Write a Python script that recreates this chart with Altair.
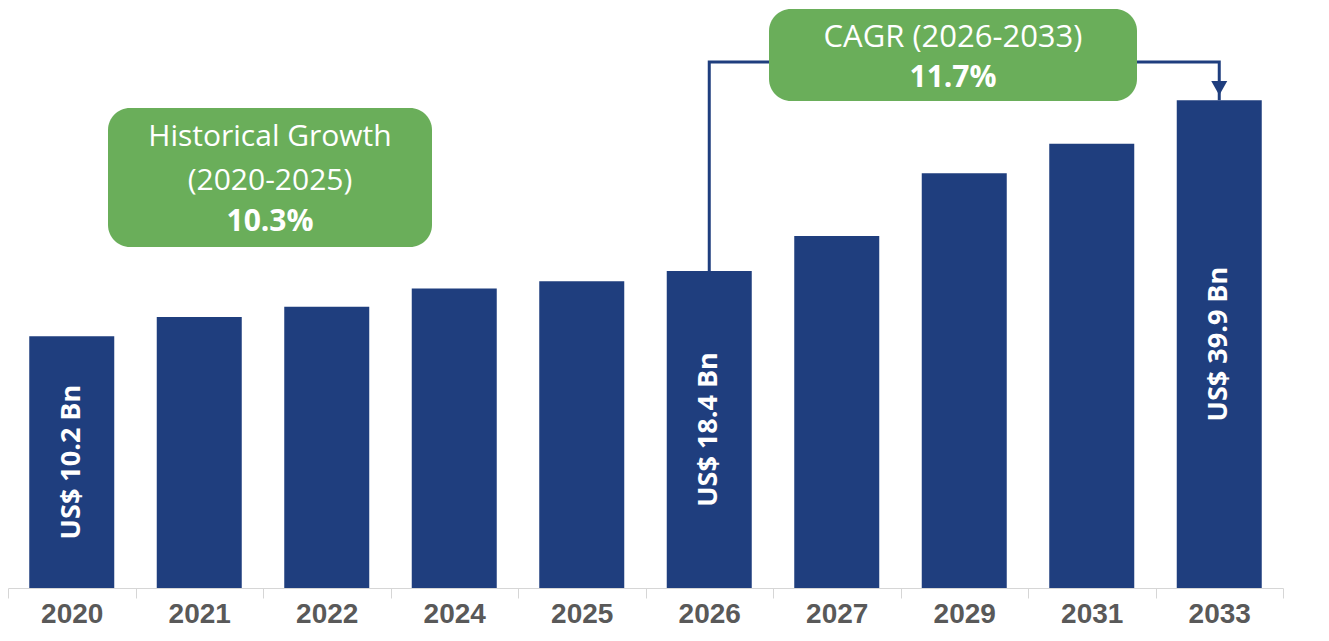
import altair as alt
import pandas as pd

# ---- data ----
years = ["2020", "2021", "2022", "2024", "2025", "2026", "2027", "2029", "2031", "2033"]
values = [10.2, 12.6, 13.9, 16.2, 17.1, 18.4, 22.8, 30.7, 34.4, 39.9]
label_years = ["2020", "2026", "2033"]

hist_box_lines = ["Historical Growth", "(2020-2025)", "10.3%"]
cagr_box_lines = ["CAGR (2026-2033)", "11.7%"]

# ---- styling ----
NAVY = "#1F3E7E"
GREEN = "#6AAE5A"
Y_MIN, Y_MAX = -21.5, 51.5
W, H = 1275, 580

df = pd.DataFrame({"year": years, "value": values})
df["label"] = [f"US$ {v} Bn" if y in label_years else "" for y, v in zip(years, values)]
df["mid"] = (df["value"] + Y_MIN) / 2

x_enc = alt.X("year:N", sort=years, scale=alt.Scale(paddingInner=0, paddingOuter=0),
              axis=alt.Axis(title=None, tickBand="extent", labelAngle=0,
                            labelFont="Liberation Sans", labelFontSize=28, labelFontWeight="bold",
                            labelColor="#595959", domainColor="#D6D6D6", tickColor="#D6D6D6",
                            tickSize=10, labelPadding=2, grid=False))
y_scale = alt.Scale(domain=[Y_MIN, Y_MAX], nice=False, zero=False)

base = alt.Chart(df)

bars = base.mark_bar(color=NAVY, width=alt.RelativeBandSize(2 / 3)).encode(
    x=x_enc,
    y=alt.Y("value:Q", scale=y_scale, axis=None),
    y2=alt.datum(Y_MIN),
)

bar_labels = base.transform_filter("datum.label != ''").mark_text(
    angle=270, align="center", baseline="middle", color="white",
    font="Open Sans", fontWeight="bold", fontSize=27,
).encode(x=alt.X("year:N", sort=years), y=alt.Y("mid:Q", scale=y_scale), text="label:N")

# connector from the 2026 bar to the 2033 bar
start_year, end_year = "2026", "2033"
v_start = values[years.index(start_year)]
v_end = values[years.index(end_year)]
y_top = max(values) + 4.8
conn = pd.DataFrame({
    "year": [start_year, start_year, end_year, end_year],
    "value": [v_start, y_top, y_top, v_end],
    "order": [0, 1, 2, 3],
})
connector = alt.Chart(conn).mark_line(color=NAVY, strokeWidth=3, strokeJoin="miter").encode(
    x=alt.X("year:N", sort=years),
    y=alt.Y("value:Q", scale=y_scale),
    order="order:Q",
)
arrow = alt.Chart(pd.DataFrame({"year": [end_year], "value": [v_end]})).mark_point(
    shape="M-1,-0.9L1,-0.9L0,0.9Z", filled=True, color=NAVY, opacity=1, size=256, yOffset=-12,
).encode(x=alt.X("year:N", sort=years), y=alt.Y("value:Q", scale=y_scale))


def box(x1, x2, y1, y2):
    return alt.Chart(df.head(1)).mark_rect(color=GREEN, cornerRadius=22).encode(
        x=alt.value(x1), x2=alt.value(x2), y=alt.value(y1), y2=alt.value(y2))


def txt(s, x, y, bold=False, size=30):
    return alt.Chart(pd.DataFrame({"t": [s]})).mark_text(
        font="Open Sans", fontSize=size, fontWeight="bold" if bold else "normal",
        color="white", align="center", baseline="middle",
    ).encode(x=alt.value(x), y=alt.value(y), text="t:N")


hist = [box(100, 424, 100, 239),
        txt(hist_box_lines[0], 262, 129),
        txt(hist_box_lines[1], 262, 173),
        txt(hist_box_lines[2], 262, 214, bold=True)]
cagr = [box(761, 1129, 1, 93),
        txt(cagr_box_lines[0], 945, 30, size=31),
        txt(cagr_box_lines[1], 945, 70, bold=True)]

chart = alt.layer(bars, bar_labels, connector, arrow, *hist, *cagr).properties(
    width=W, height=H,
    autosize=alt.AutoSizeParams(type="none"),
    padding={"left": 0, "top": 0, "right": 38, "bottom": 45},
    background="white",
).configure_view(stroke=None)

chart.save("out.html", embed_options={"renderer": "svg", "actions": False})
